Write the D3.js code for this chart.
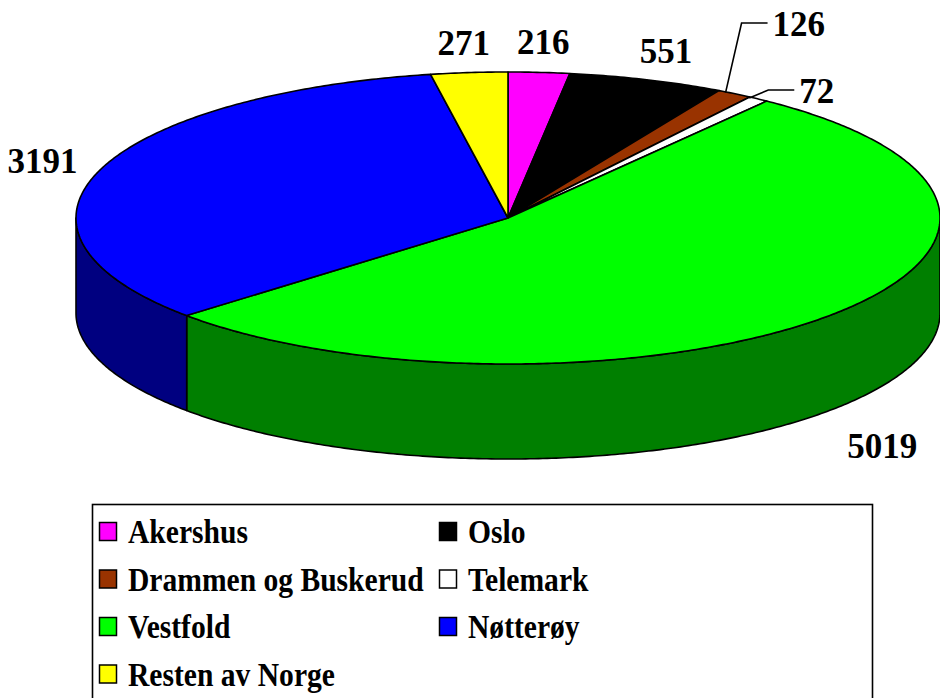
<!DOCTYPE html>
<html><head><meta charset="utf-8">
<script src="https://cdn.jsdelivr.net/npm/d3@7"></script>
<style>html,body{margin:0;padding:0;background:#fff;}svg{display:block;}</style>
</head><body>
<svg id="chart" width="940" height="698"></svg>
<script>
const categories = ["Akershus","Oslo","Drammen og Buskerud","Telemark","Vestfold","Nøtterøy","Resten av Norge"];
const values = [216, 551, 126, 72, 5019, 3191, 271];
const topColors = ["#FF00FF","#000000","#993300","#FFFFFF","#00FF00","#0000FF","#FFFF00"];
const sideColors = ["#800080","#000000","#4d1a00","#808080","#007F00","#000080","#808000"];

const svg = d3.select("#chart");
const cx = 508, cy = 218, rx = 432, ry = 146, depth = 95;
const font = "'Liberation Serif','Times New Roman',serif";

const pie = d3.pie().sort(null).value(d => d)
  .startAngle(0).endAngle(2 * Math.PI);
const arcs = pie(values);

const pt = (a, dy = 0) => [cx + rx * Math.sin(a), cy - ry * Math.cos(a) + dy];
const sample = (a0, a1, dy = 0) => {
  const n = Math.max(2, Math.ceil(Math.abs(a1 - a0) / 0.01));
  return d3.range(n + 1).map(i => pt(a0 + (a1 - a0) * i / n, dy));
};
const line = d3.line();

// sides (front half only)
const gSide = svg.append("g");
arcs.forEach((a, i) => {
  const s = Math.max(a.startAngle, Math.PI / 2), e = Math.min(a.endAngle, 3 * Math.PI / 2);
  if (e <= s) return;
  const pts = sample(s, e).concat(sample(e, s, depth));
  gSide.append("path").attr("d", line(pts) + "Z")
    .attr("fill", sideColors[i]).attr("stroke", "#000").attr("stroke-width", 1.6)
    .attr("stroke-linejoin", "round");
});

// tops
const gTop = svg.append("g");
arcs.forEach((a, i) => {
  const pts = [[cx, cy]].concat(sample(a.startAngle, a.endAngle));
  gTop.append("path").attr("d", line(pts) + "Z")
    .attr("fill", topColors[i]).attr("stroke", "#000").attr("stroke-width", 1.6)
    .attr("stroke-linejoin", "round");
});

// labels
const gLab = svg.append("g").attr("font-family", font).attr("font-weight", "bold")
  .attr("font-size", 35).attr("fill", "#000");
const leaders = { "Drammen og Buskerud": { dx: 16, y: 23 }, "Telemark": { dx: 19, y: 90 } };
arcs.forEach((a, i) => {
  const mid = (a.startAngle + a.endAngle) / 2;
  const L = leaders[categories[i]];
  if (L) {
    const p = pt(mid);
    const p0 = [p[0] - 9, p[1] - 1];
    const elbow = [p0[0] + L.dx, L.y];
    const end = [elbow[0] + 26, L.y];
    gLab.append("path").attr("d", line([p0, elbow, end])).attr("fill", "none")
      .attr("stroke", "#000").attr("stroke-width", 1.6);
    gLab.append("text").attr("x", end[0] + 5).attr("y", L.y + 13).text(values[i]);
  } else {
    const lower = Math.cos(mid) < 0;
    const x = cx + (rx + (lower ? 75 : 60)) * Math.sin(mid);
    let y = cy - (ry + 30) * Math.cos(mid);
    if (lower) y += depth + 14;
    gLab.append("text").attr("x", x).attr("y", y + 12).attr("text-anchor", "middle").text(values[i]);
  }
});

// legend
const lg = svg.append("g");
lg.append("rect").attr("x", 92.5).attr("y", 504.5).attr("width", 780).attr("height", 220)
  .attr("fill", "#fff").attr("stroke", "#000").attr("stroke-width", 1.6);
categories.forEach((c, i) => {
  const col = i % 2, row = Math.floor(i / 2);
  const sx = col === 0 ? 99 : 439;
  const by = 543 + row * 47.5;
  lg.append("rect").attr("x", sx + 0.5).attr("y", by - 21 + 0.5).attr("width", 17).attr("height", 18)
    .attr("fill", topColors[i]).attr("stroke", "#000").attr("stroke-width", 1.5);
  lg.append("text").attr("transform", `translate(${sx + 29},${by}) scale(0.87,1.02)`)
    .attr("font-family", font).attr("font-weight", "bold").attr("font-size", 34)
    .text(c);
});
</script>
</body></html>
